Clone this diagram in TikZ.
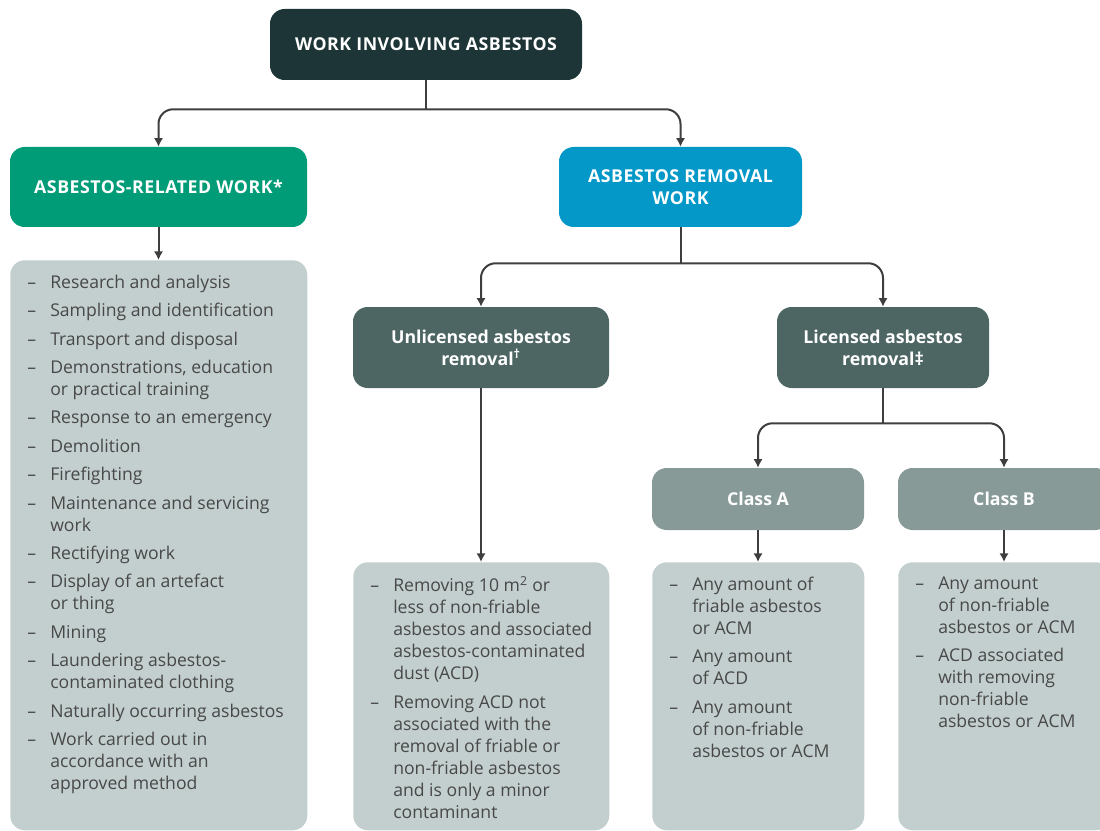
\documentclass[tikz,border=0pt]{standalone}
\usepackage{fontspec}
\setmainfont{Open Sans}
\usetikzlibrary{arrows.meta,positioning}

\definecolor{topdark}{RGB}{29,53,54}
\definecolor{relgreen}{RGB}{0,155,119}
\definecolor{remblue}{RGB}{3,152,200}
\definecolor{slate}{RGB}{77,102,100}
\definecolor{sage}{RGB}{135,154,152}
\definecolor{pale}{RGB}{195,207,206}
\definecolor{listgray}{RGB}{72,72,72}
\definecolor{linegray}{RGB}{62,62,62}

\newcommand{\dashitem}[1]{\noindent\hangindent=17.25pt\hangafter=1\makebox[17.25pt][l]{--}#1\par\vspace{4.8pt}}
\newcommand{\listtext}[3]{\parbox[t][#1][t]{#2}{\raggedright #3}}

\tikzset{
  box/.style = {rounded corners=11pt, inner sep=0pt, align=center, text=white,
                font=\fontsize{13.3}{16.5}\selectfont\bfseries},
  capsbox/.style = {box, font=\fontsize{13.3}{16.5}\selectfont\bfseries\addfontfeatures{LetterSpace=3}},
  listbox/.style = {rounded corners=11pt, fill=pale, anchor=north west,
                inner xsep=12.75pt, inner ysep=11pt, text=listgray,
                font=\fontsize{13.2}{16.5}\selectfont},
  link/.style = {draw=linegray, line width=1.5pt, rounded corners=11pt,
                -{Latex[length=6.5pt,width=7pt]}},
  twoway/.style = {link, {Latex[length=6.5pt,width=7pt]}-{Latex[length=6.5pt,width=7pt]}},
  stem/.style = {draw=linegray, line width=1.5pt}
}

\begin{document}
\begin{tikzpicture}[x=0.75pt, y=-0.75pt]
  \useasboundingbox (0,0) rectangle (1100,831);

  % headings
  \node[capsbox, fill=topdark, minimum width=234pt, minimum height=53.25pt] (top) at (426,44.5) {WORK INVOLVING ASBESTOS};
  \node[capsbox, fill=relgreen, minimum width=222.75pt, minimum height=60pt] (related) at (158.5,187) {ASBESTOS-RELATED WORK*};
  \node[capsbox, fill=remblue, minimum width=182.25pt, minimum height=60pt] (removal) at (680.5,187) {ASBESTOS REMOVAL\\WORK};
  \node[box, fill=slate, minimum width=192pt, minimum height=60.75pt] (unlic) at (481,347.5) {Unlicensed asbestos\\removal\textsuperscript{\dag}};
  \node[box, fill=slate, minimum width=159pt, minimum height=60.75pt] (lic) at (883,347.5) {Licensed asbestos\\removal\ddag};
  \node[box, fill=sage, minimum width=159pt, minimum height=46.5pt] (classa) at (758,499) {Class A};
  \node[box, fill=sage, minimum width=159pt, minimum height=46.5pt] (classb) at (1004,499) {Class B};

  % lists
  \node[listbox] (listrel) at (10,260) {\listtext{405.5pt}{197.25pt}{%
    \dashitem{Research and analysis}
    \dashitem{Sampling and identification}
    \dashitem{Transport and disposal}
    \dashitem{Demonstrations, education\newline or practical training}
    \dashitem{Response to an emergency}
    \dashitem{Demolition}
    \dashitem{Firefighting}
    \dashitem{Maintenance and servicing\newline work}
    \dashitem{Rectifying work}
    \dashitem{Display of an artefact\newline or thing}
    \dashitem{Mining}
    \dashitem{Laundering asbestos-\newline contaminated clothing}
    \dashitem{Naturally occurring asbestos}
    \dashitem{Work carried out in\newline accordance with an\newline approved method}}};
  \node[listbox] (listunl) at (353,562) {\listtext{179pt}{166.5pt}{%
    \dashitem{Removing 10 m\textsuperscript{2} or\newline less of non-friable\newline asbestos and associated\newline asbestos-contaminated\newline dust (ACD)}
    \dashitem{Removing ACD not\newline associated with the\newline removal of friable or\newline non-friable asbestos\newline and is only a minor\newline contaminant}}};
  \node[listbox] (lista) at (652,562) {\listtext{179pt}{133.5pt}{%
    \dashitem{Any amount of\newline friable asbestos\newline or ACM}
    \dashitem{Any amount\newline of ACD}
    \dashitem{Any amount\newline of non-friable\newline asbestos or ACM}}};
  \node[listbox] (listb) at (898,562) {\listtext{179pt}{133.5pt}{%
    \dashitem{Any amount\newline of non-friable\newline asbestos or ACM}
    \dashitem{ACD associated\newline with removing\newline non-friable\newline asbestos or ACM}}};

  % connectors
  \path (top.south) ++(0,29) coordinate (j1);
  \draw[stem] (top.south) -- (j1);
  \draw[twoway] (related.north) |- (j1) -| (removal.north);
  \draw[link] (related.south) -- (listrel.north -| related.south);

  \path (removal.south) ++(0,36) coordinate (j2);
  \draw[stem] (removal.south) -- (j2);
  \draw[twoway] (unlic.north) |- (j2) -| (lic.north);
  \draw[link] (unlic.south) -- (listunl.north -| unlic.south);

  \path (lic.south) ++(0,35) coordinate (j3);
  \draw[stem] (lic.south) -- (j3);
  \draw[twoway] (classa.north) |- (j3) -| (classb.north);
  \draw[link] (classa.south) -- (lista.north -| classa.south);
  \draw[link] (classb.south) -- (listb.north -| classb.south);
\end{tikzpicture}
\end{document}
